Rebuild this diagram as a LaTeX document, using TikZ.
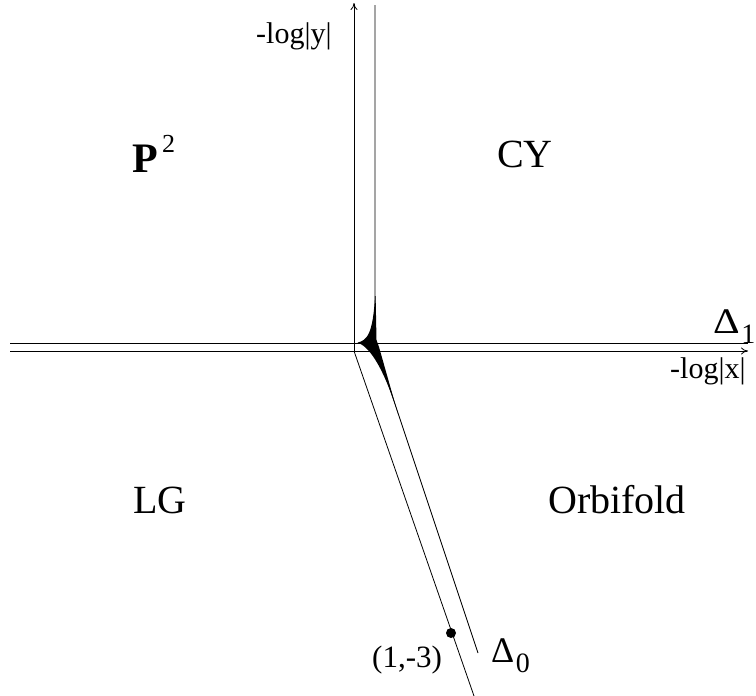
\documentclass[tikz,border=0pt]{standalone}
\usepackage{fontspec}
\setmainfont{Liberation Serif}
\usetikzlibrary{arrows.meta}
\begin{document}
\begin{tikzpicture}[x=1pt,y=-1pt,
  ln/.style={line width=0.8pt,black},
  axarrow/.style={ln,-{To[length=7pt,width=7pt]}},
  big/.style={inner sep=0pt,anchor=base west,font=\fontsize{40}{44}\selectfont},
  axlab/.style={inner sep=0pt,anchor=base west,font=\fontsize{30}{34}\selectfont},
  dlab/.style={inner sep=0pt,anchor=base west,font=\fontsize{36}{40}\selectfont},
  sub/.style={inner sep=0pt,anchor=base west,font=\fontsize{28}{32}\selectfont}]
\useasboundingbox (0,0) rectangle (756,696);
% coordinates
\coordinate (O) at (354,351);
\coordinate (Ytop) at (354,3);
\coordinate (Rtop) at (375,5);
\coordinate (C) at (375,344);
\coordinate (Lbot) at (474,696);
\coordinate (Rbot) at (478,653);
\coordinate (Hl) at (10,351);
\coordinate (Hr) at (748,351);
\coordinate (Ul) at (10,343.5);
\coordinate (Ur) at (748,343.5);
% lines
\draw[axarrow] (O) -- (Ytop);
\draw[axarrow] (Hl) -- (Hr);
\draw[ln] (Ul) -- (Ur);
\draw[ln] (Rtop) -- (C) -- (Rbot);
\draw[ln] (O) -- (Lbot);
% cusp
\fill[black] (375.6,296) -- (376.5,340) -- (379,347) -- (398,414)
  .. controls (385,372) and (371,347) .. (357.5,342.6)
  .. controls (367,340.5) and (373,334) .. (375,296) -- cycle;
% point
\node[circle,fill=black,inner sep=0pt,minimum size=10pt] (pt) at (451,633) {};
% labels
\node[axlab] (ylab) at (256,43) {-log|y|};
\node[axlab] (xlab) at (670,378) {-log|x|};
\node[dlab,xscale=1.15] (d1) at (713,333) {Δ};
\node[sub] (d1s) at ([xshift=1pt,yshift=-10pt]d1.base east) {1};
\node[dlab,xscale=1.0] (d0) at (491,662) {Δ};
\node[sub] (d0s) at ([xshift=1pt,yshift=-10pt]d0.base east) {0};
\node[axlab,font=\fontsize{31}{34}\selectfont] (ptl) at (372,667) {(1,-3)};
\node[big,font=\fontsize{42}{46}\selectfont] (p2) at (132,172) {\textbf{P}};
\node[inner sep=0pt,anchor=base west,font=\fontsize{26}{30}\selectfont] (p2s) at (162,152) {2};
\node[big] (cy) at (497,167) {CY};
\node[big] (lg) at (133,513) {LG};
\node[big] (orb) at (548,513) {Orbifold};
\end{tikzpicture}
\end{document}
